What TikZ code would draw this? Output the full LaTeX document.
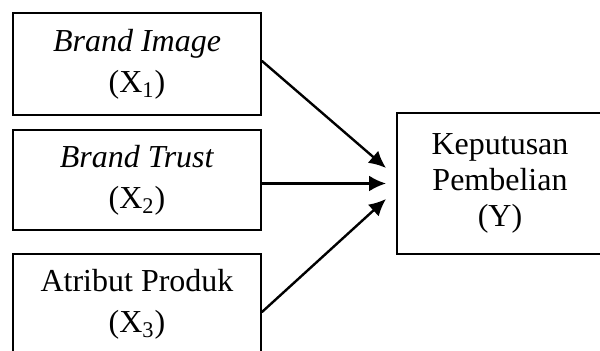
\documentclass[tikz,border=0pt]{standalone}
\usepackage{fontspec}
\setmainfont{Liberation Serif}
\usetikzlibrary{arrows.meta}
\begin{document}
\begin{tikzpicture}[x=0.5pt,y=-0.5pt,
  varbox/.style={draw,line width=1pt,align=center,inner sep=0pt,
    font=\fontsize{16}{20.5}\selectfont},
  arr/.style={line width=1.2pt,line cap=round,-{Latex[length=8.5pt,width=8pt]}}]
  \clip (0,0) rectangle (600,351);
  \node[varbox,minimum width=124pt,minimum height=51pt] (X1) at (137,64) {\textit{Brand Image}\\(X\textsubscript{1})};
  \node[varbox,minimum width=124pt,minimum height=50pt] (X2) at (137,180) {\textit{Brand Trust}\\(X\textsubscript{2})};
  \node[varbox,minimum width=124pt,minimum height=50pt] (X3) at (137,304) {Atribut Produk\\(X\textsubscript{3})};
  \node[varbox,minimum width=103pt,minimum height=70.5pt,
    font=\fontsize{16}{18}\selectfont] (Y) at (500,183.5) {Keputusan\\Pembelian\\(Y)};
  \coordinate (T1) at ([shift={(-10,-15.5)}]Y.west);
  \coordinate (T2) at ([shift={(-10,0)}]Y.west);
  \coordinate (T3) at ([shift={(-10,15.5)}]Y.west);
  \draw[arr] ([yshift=1.5pt]X1.east) -- (T1);
  \draw[arr] (X2.east |- T2) -- (T2);
  \draw[arr] ([yshift=-4pt]X3.east) -- (T3);
\end{tikzpicture}
\end{document}
